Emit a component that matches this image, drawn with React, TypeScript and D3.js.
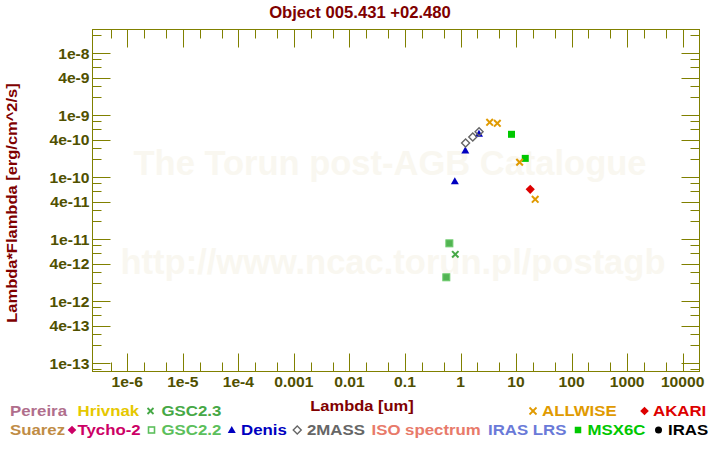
import React from "react";
import * as d3 from "d3";

// ---------- data ----------
const allwiseX = [3.35, 4.6, 11.6, 22.1];
const allwiseY = [7.71e-10, 7.43e-10, 1.75e-10, 4.42e-11];
const msxX = [8.28, 14.65];
const msxY = [4.94e-10, 2.02e-10];
const twomassX = [1.235, 1.662, 2.159];
const twomassY = [3.57e-10, 4.47e-10, 5.43e-10];
const denisX = [0.79, 1.22, 2.15];
const denisY = [8.81e-11, 2.76e-10, 5.13e-10];
const akariX = [18.0];
const akariY = [6.4e-11];
const gsc22X = [0.63, 0.555];
const gsc22Y = [8.61e-12, 2.44e-12];
const gsc23X = [0.806];
const gsc23Y = [5.73e-12];

const xTickValues = [1e-6, 1e-5, 1e-4, 1e-3, 1e-2, 1e-1, 1, 10, 100, 1000, 10000];
const xTickLabels = ["1e-6", "1e-5", "1e-4", "0.001", "0.01", "0.1", "1", "10", "100", "1000", "10000"];
const yTickValues = [1e-8, 4e-9, 1e-9, 4e-10, 1e-10, 4e-11, 1e-11, 4e-12, 1e-12, 4e-13, 1e-13];
const yTickLabels = ["1e-8", "4e-9", "1e-9", "4e-10", "1e-10", "4e-11", "1e-11", "4e-12", "1e-12", "4e-13", "1e-13"];
const xMinorMantissas = [2, 5];
const yMinorMantissas = [2, 3, 6, 8];

const title = "Object 005.431 +02.480";
const xTitle = "Lambda [um]";
const yTitle = "Lambda*Flambda [erg/cm^2/s]";

// ---------- layout ----------
const W = 720, H = 450;
const L = 92.5, R = 699.5, T = 29.5, B = 371.5;
const AX = "#808000";
const TL = "#505000";
const MAROON = "#800000";
const FONT = "'Liberation Sans', Arial, Helvetica, sans-serif";

const x = d3.scaleLog().domain([Math.pow(10, -6.626), Math.pow(10, 4.303)]).range([L, R]);
const y = d3.scaleLog().domain([Math.pow(10, -13.132), Math.pow(10, -7.616)]).range([B, T]);

function minorTicks(scale: any, mantissas: number[]) {
  const [d0, d1] = scale.domain();
  const out: number[] = [];
  for (let e = Math.floor(Math.log10(d0)) - 1; e <= Math.ceil(Math.log10(d1)) + 1; e++) {
    for (const m of mantissas) {
      const v = m * Math.pow(10, e);
      if (v >= d0 && v <= d1) out.push(v);
    }
  }
  return out;
}

const ST = ({ x: px, y: py, sx = 1, anchor = "start", fill, size, children, rot }: any) => (
  <text
    transform={`translate(${px},${py})${rot ? ` rotate(${rot})` : ""} scale(${sx},1)`}
    textAnchor={anchor}
    fill={fill}
    fontSize={size}
    fontWeight="bold"
    fontFamily={FONT}
  >
    {children}
  </text>
);

const Cross = ({ cx, cy, r = 3.5, color, sw = 2 }: any) => (
  <g stroke={color} strokeWidth={sw}>
    <line x1={cx - r} y1={cy - r} x2={cx + r} y2={cy + r} />
    <line x1={cx - r} y1={cy + r} x2={cx + r} y2={cy - r} />
  </g>
);
const Diamond = ({ cx, cy, r = 4.5, fill, stroke, sw = 1 }: any) => (
  <path d={`M${cx},${cy - r}L${cx + r},${cy}L${cx},${cy + r}L${cx - r},${cy}Z`} fill={fill} stroke={stroke} strokeWidth={sw} />
);
const Square = ({ cx, cy, s = 7, fill, stroke, sw = 1 }: any) => (
  <rect x={cx - s / 2} y={cy - s / 2} width={s} height={s} fill={fill} stroke={stroke} strokeWidth={sw} />
);
const Tri = ({ cx, cy, w = 8, h = 7, fill }: any) => (
  <path d={`M${cx},${cy - h / 2}L${cx + w / 2},${cy + h / 2}L${cx - w / 2},${cy + h / 2}Z`} fill={fill} />
);

const C = {
  pereira: "#b06e8c",
  hrivnak: "#e6c800",
  gsc23: "#46a846",
  allwise: "#e09a00",
  akari: "#dd0000",
  suarez: "#c08c46",
  tycho: "#cc0066",
  gsc22: "#5cbf5c",
  denis: "#0000c0",
  twomass: "#666666",
  iso: "#e87a6a",
  iraslrs: "#6a7ad8",
  msx: "#00c800",
  iras: "#000000",
};

export default function App() {
  const xMinor = minorTicks(x, xMinorMantissas);
  const yMinor = minorTicks(y, yMinorMantissas);
  const LS = 14.5, LSX = 1.16;
  const r1 = 416, r2 = 435;
  return (
    <svg width={W} height={H} style={{ position: "absolute", left: 0, top: 0, background: "#fff" }}>
      <rect x={0} y={0} width={W} height={H} fill="#ffffff" />
      {/* watermark */}
      <text x={390} y={175} textAnchor="middle" fontSize={34.5} fontWeight="bold" fontFamily={FONT} fill="#f9f7f0">
        The Torun post-AGB Catalogue
      </text>
      <text x={393} y={274} textAnchor="middle" fontSize={34.5} fontWeight="bold" fontFamily={FONT} fill="#f9f7f0">
        http://www.ncac.torun.pl/postagb
      </text>

      {/* title */}
      <ST x={360} y={18} sx={1.04} anchor="middle" fill={MAROON} size={16}>{title}</ST>

      {/* frame */}
      <rect x={L} y={T} width={R - L} height={B - T} fill="none" stroke={AX} strokeWidth={1} />

      {/* x ticks */}
      <g stroke={AX} strokeWidth={1}>
        {xTickValues.map((v, i) => {
          const px = Math.round(x(v)) + 0.5;
          return (
            <g key={"xm" + i}>
              <line x1={px} x2={px} y1={B} y2={B - 18} />
              <line x1={px} x2={px} y1={T} y2={T + 18} />
            </g>
          );
        })}
        {xMinor.map((v, i) => {
          const px = Math.round(x(v)) + 0.5;
          return (
            <g key={"xn" + i}>
              <line x1={px} x2={px} y1={B} y2={B - 9} />
              <line x1={px} x2={px} y1={T} y2={T + 9} />
            </g>
          );
        })}
        {yTickValues.map((v, i) => {
          const py = Math.round(y(v)) + 0.5;
          return (
            <g key={"ym" + i}>
              <line x1={L} x2={L + 18} y1={py} y2={py} />
              <line x1={R} x2={R - 18} y1={py} y2={py} />
            </g>
          );
        })}
        {yMinor.map((v, i) => {
          const py = Math.round(y(v)) + 0.5;
          return (
            <g key={"yn" + i}>
              <line x1={L} x2={L + 9} y1={py} y2={py} />
              <line x1={R} x2={R - 9} y1={py} y2={py} />
            </g>
          );
        })}
      </g>

      {/* tick labels */}
      {xTickValues.map((v, i) => (
        <ST key={"xl" + i} x={x(v)} y={387} sx={1.08} anchor="middle" fill={TL} size={14.5}>
          {xTickLabels[i]}
        </ST>
      ))}
      {yTickValues.map((v, i) => (
        <ST key={"yl" + i} x={89.5} y={y(v) + 5.2} sx={1.08} anchor="end" fill={TL} size={14.5}>
          {yTickLabels[i]}
        </ST>
      ))}

      {/* axis titles */}
      <ST x={362} y={410.5} sx={1.1} anchor="middle" fill={MAROON} size={15}>{xTitle}</ST>
      <ST x={16.5} y={203} sx={1.1} anchor="middle" fill={MAROON} size={15} rot={-90}>{yTitle}</ST>

      {/* data */}
      {gsc22X.map((v, i) => (
        <Square key={"g22" + i} cx={x(v)} cy={y(gsc22Y[i])} s={7} fill="#52b452" stroke="#6ccb6c" sw={1} />
      ))}
      {gsc23X.map((v, i) => (
        <Cross key={"g23" + i} cx={x(v)} cy={y(gsc23Y[i])} r={3.2} color={C.gsc23} sw={2} />
      ))}
      {denisX.map((v, i) => (
        <Tri key={"de" + i} cx={x(v)} cy={y(denisY[i])} w={8} h={7} fill={C.denis} />
      ))}
      {twomassX.map((v, i) => (
        <Diamond key={"tm" + i} cx={x(v)} cy={y(twomassY[i])} r={4} fill="none" stroke={C.twomass} sw={1.4} />
      ))}
      {msxX.map((v, i) => (
        <Square key={"ms" + i} cx={x(v)} cy={y(msxY[i])} s={7} fill={C.msx} stroke="none" />
      ))}
      {akariX.map((v, i) => (
        <Diamond key={"ak" + i} cx={x(v)} cy={y(akariY[i])} r={4.6} fill={C.akari} stroke="none" />
      ))}
      {allwiseX.map((v, i) => (
        <Cross key={"aw" + i} cx={x(v)} cy={y(allwiseY[i])} r={3.3} color={C.allwise} sw={2} />
      ))}

      {/* legend row 1 */}
      <ST x={10} y={r1} sx={LSX} fill={C.pereira} size={LS}>Pereira</ST>
      <ST x={77.5} y={r1} sx={LSX} fill={C.hrivnak} size={LS}>Hrivnak</ST>
      <Cross cx={150.5} cy={r1 - 5} r={3} color={C.gsc23} sw={1.8} />
      <ST x={161.5} y={r1} sx={LSX} fill={C.gsc23} size={LS}>GSC2.3</ST>
      <Cross cx={533} cy={r1 - 5} r={3.5} color={C.allwise} sw={1.8} />
      <ST x={542} y={r1} sx={LSX} fill={C.allwise} size={LS}>ALLWISE</ST>
      <Diamond cx={644.5} cy={r1 - 5} r={4.3} fill={C.akari} />
      <ST x={653} y={r1} sx={LSX} fill={C.akari} size={LS}>AKARI</ST>

      {/* legend row 2 */}
      <ST x={10} y={r2} sx={LSX} fill={C.suarez} size={LS}>Suarez</ST>
      <Diamond cx={72} cy={r2 - 5} r={4.3} fill={C.tycho} />
      <ST x={77.5} y={r2} sx={LSX} fill={C.tycho} size={LS}>Tycho-2</ST>
      <Square cx={151.5} cy={r2 - 5} s={6} fill="none" stroke={C.gsc22} sw={1.6} />
      <ST x={161.5} y={r2} sx={LSX} fill={C.gsc22} size={LS}>GSC2.2</ST>
      <Tri cx={231.75} cy={r2 - 5.5} w={8} h={7} fill={C.denis} />
      <ST x={241} y={r2} sx={LSX} fill={C.denis} size={LS}>Denis</ST>
      <Diamond cx={297.25} cy={r2 - 5} r={4} fill="none" stroke={C.twomass} sw={1.4} />
      <ST x={307} y={r2} sx={LSX} fill={C.twomass} size={LS}>2MASS</ST>
      <ST x={371.5} y={r2} sx={LSX} fill={C.iso} size={LS}>ISO spectrum</ST>
      <ST x={488} y={r2} sx={LSX} fill={C.iraslrs} size={LS}>IRAS LRS</ST>
      <Square cx={578} cy={r2 - 5} s={6.5} fill={C.msx} stroke="none" />
      <ST x={587.5} y={r2} sx={LSX} fill={C.msx} size={LS}>MSX6C</ST>
      <circle cx={658.5} cy={r2 - 5} r={3.5} fill={C.iras} />
      <ST x={668} y={r2} sx={LSX} fill={C.iras} size={LS}>IRAS</ST>
    </svg>
  );
}
